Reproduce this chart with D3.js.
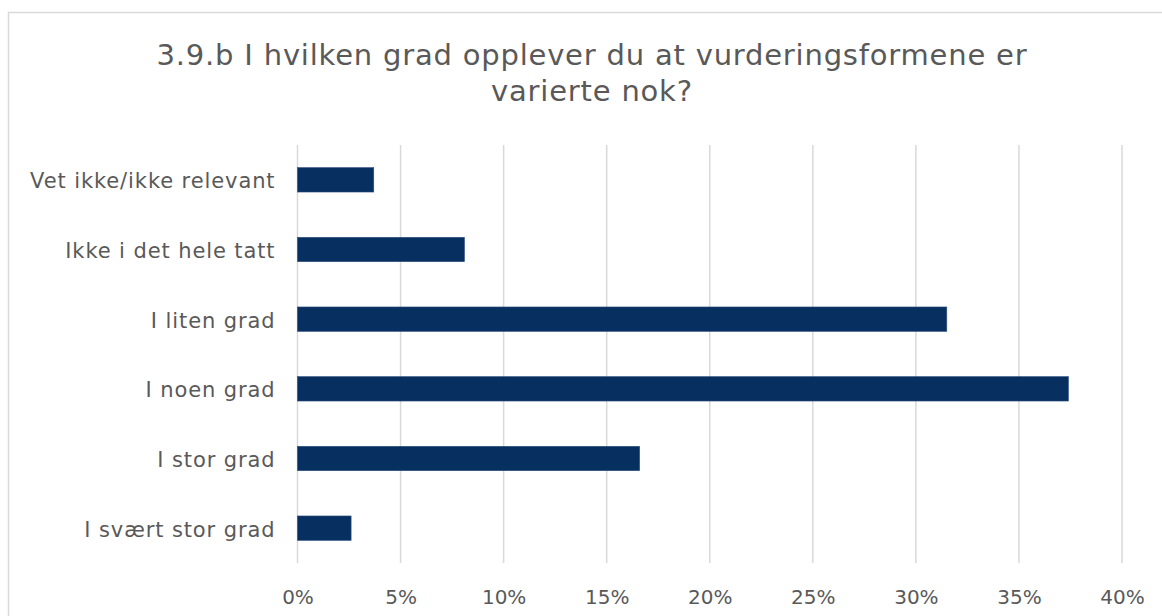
<!DOCTYPE html>
<html>
<head>
<meta charset="utf-8">
<script src="https://cdn.jsdelivr.net/npm/d3@7"></script>
<style>
  body { margin: 0; background: #fff; }
  text { font-family: "Century Gothic", "DejaVu Sans", sans-serif; fill: #595959; }
</style>
</head>
<body>
<svg id="chart" width="1162" height="616"></svg>
<script>
// data
const categories = [
  "Vet ikke/ikke relevant",
  "Ikke i det hele tatt",
  "I liten grad",
  "I noen grad",
  "I stor grad",
  "I svært stor grad"
];
const values = [0.037, 0.081, 0.315, 0.374, 0.166, 0.026];
const xTicks = [0, 0.05, 0.10, 0.15, 0.20, 0.25, 0.30, 0.35, 0.40];
const titleLines = [
  "3.9.b I hvilken grad opplever du at vurderingsformene er",
  "varierte nok?"
];

const $svg = d3.select("#chart");
const width = +$svg.attr("width");
const height = +$svg.attr("height");

const margin = { top: 145, right: 40, bottom: 53, left: 297.5 };
const plotRight = 1122;

// chart frame
$svg.append("rect")
  .attr("x", 8.5)
  .attr("y", 12.5)
  .attr("width", 1170)
  .attr("height", 640)
  .attr("fill", "none")
  .attr("stroke", "#d9d9d9")
  .attr("stroke-width", 1.5);

const x = d3.scaleLinear()
  .domain([0, 0.4])
  .range([margin.left, plotRight]);

const y = d3.scaleBand()
  .domain(categories)
  .range([margin.top, height - margin.bottom])
  .paddingInner(0.65)
  .paddingOuter(0.325);

// title
$svg.append("g")
  .attr("class", "title")
  .selectAll("text")
  .data(titleLines)
  .enter()
  .append("text")
  .attr("x", 592)
  .attr("y", (d, i) => 65 + i * 36)
  .attr("text-anchor", "middle")
  .style("font-size", "29px")
  .style("letter-spacing", "0.8px")
  .text(d => d);

// vertical gridlines
$svg.append("g")
  .attr("class", "grid")
  .selectAll("line")
  .data(xTicks)
  .enter()
  .append("line")
  .attr("x1", d => x(d))
  .attr("x2", d => x(d))
  .attr("y1", margin.top)
  .attr("y2", height - margin.bottom)
  .attr("stroke", "#d9d9d9")
  .attr("stroke-width", 1.5);

// x axis labels
const xAxis = d3.axisBottom(x)
  .tickValues(xTicks)
  .tickFormat(d3.format(".0%"))
  .tickSize(0)
  .tickPadding(0);

const $xAxis = $svg.append("g")
  .attr("transform", `translate(0,${height - margin.bottom})`)
  .call(xAxis);
$xAxis.select(".domain").remove();
$xAxis.selectAll("text")
  .attr("y", 41)
  .attr("dy", 0)
  .style("font-size", "20px")
  .attr("fill", "#595959");

// y axis labels
const yAxis = d3.axisLeft(y).tickSize(0).tickPadding(22);
const $yAxis = $svg.append("g")
  .attr("transform", `translate(${margin.left},0)`)
  .call(yAxis);
$yAxis.select(".domain").remove();
$yAxis.selectAll("text")
  .attr("dy", "0.4em")
  .style("font-size", "21px")
  .style("letter-spacing", "0.9px")
  .attr("fill", "#595959");

// bars
$svg.append("g")
  .attr("class", "bars")
  .selectAll("rect")
  .data(values)
  .enter()
  .append("rect")
  .attr("x", x(0))
  .attr("y", (d, i) => y(categories[i]))
  .attr("width", d => x(d) - x(0))
  .attr("height", y.bandwidth())
  .attr("fill", "#072f5f")
  .attr("stroke", "#2b4f7e")
  .attr("stroke-width", 0.6);
</script>
</body>
</html>
